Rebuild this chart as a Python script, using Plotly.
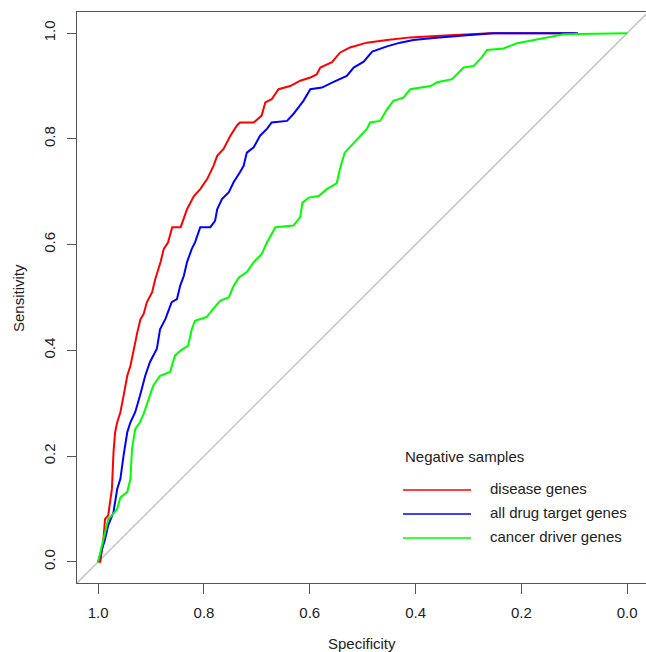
import plotly.graph_objects as go

# ---- data (specificity, sensitivity) ----
red_spec = [1.0, 0.996, 0.990, 0.987, 0.981, 0.974, 0.971, 0.968, 0.964, 0.958, 0.952, 0.945, 0.939, 0.933,
            0.926, 0.920, 0.914, 0.908, 0.898, 0.892, 0.882, 0.876, 0.868, 0.860, 0.844, 0.832, 0.819, 0.807,
            0.794, 0.782, 0.775, 0.763, 0.750, 0.738, 0.732, 0.706, 0.691, 0.684, 0.672, 0.659, 0.637, 0.618,
            0.599, 0.587, 0.580, 0.558, 0.543, 0.524, 0.492, 0.454, 0.410, 0.353, 0.303, 0.259, 0.098]
red_sens = [0.0, 0.0, 0.043, 0.081, 0.088, 0.138, 0.207, 0.245, 0.264, 0.283, 0.314, 0.352, 0.371, 0.403,
            0.434, 0.459, 0.469, 0.491, 0.510, 0.535, 0.567, 0.592, 0.604, 0.633, 0.633, 0.667, 0.692, 0.705,
            0.724, 0.749, 0.768, 0.781, 0.806, 0.825, 0.831, 0.831, 0.844, 0.869, 0.875, 0.894, 0.900, 0.910,
            0.916, 0.922, 0.935, 0.945, 0.963, 0.973, 0.982, 0.987, 0.992, 0.995, 0.998, 1.0, 1.0]

blue_spec = [1.0, 0.987, 0.981, 0.971, 0.964, 0.958, 0.952, 0.945, 0.939, 0.930, 0.921, 0.911, 0.902, 0.889,
             0.883, 0.873, 0.861, 0.851, 0.845, 0.838, 0.832, 0.823, 0.817, 0.807, 0.788, 0.779, 0.775, 0.766,
             0.753, 0.744, 0.732, 0.725, 0.719, 0.706, 0.694, 0.681, 0.672, 0.643, 0.631, 0.624, 0.612, 0.599,
             0.577, 0.555, 0.530, 0.517, 0.498, 0.482, 0.454, 0.429, 0.404, 0.366, 0.335, 0.303, 0.253, 0.093]
blue_sens = [0.0, 0.043, 0.069, 0.094, 0.138, 0.157, 0.201, 0.245, 0.264, 0.283, 0.314, 0.352, 0.378, 0.403,
             0.440, 0.459, 0.491, 0.497, 0.522, 0.541, 0.567, 0.592, 0.604, 0.633, 0.633, 0.645, 0.667, 0.686,
             0.699, 0.718, 0.737, 0.749, 0.774, 0.784, 0.806, 0.819, 0.831, 0.834, 0.847, 0.856, 0.872, 0.894,
             0.897, 0.908, 0.919, 0.935, 0.946, 0.965, 0.975, 0.982, 0.987, 0.991, 0.994, 0.996, 1.0, 1.0]

green_spec = [1.0, 0.987, 0.981, 0.974, 0.964, 0.958, 0.945, 0.939, 0.936, 0.930, 0.921, 0.914, 0.902, 0.896,
              0.883, 0.864, 0.855, 0.845, 0.830, 0.823, 0.817, 0.795, 0.783, 0.769, 0.753, 0.744, 0.734, 0.719,
              0.706, 0.691, 0.681, 0.665, 0.631, 0.618, 0.614, 0.602, 0.583, 0.568, 0.549, 0.543, 0.534, 0.519,
              0.505, 0.492, 0.486, 0.467, 0.454, 0.442, 0.423, 0.410, 0.372, 0.359, 0.331, 0.309, 0.290, 0.275,
              0.265, 0.234, 0.208, 0.177, 0.139, 0.120, 0.0]
green_sens = [0.0, 0.056, 0.081, 0.088, 0.100, 0.122, 0.132, 0.157, 0.214, 0.251, 0.264, 0.280, 0.314, 0.333,
              0.352, 0.359, 0.390, 0.399, 0.409, 0.440, 0.456, 0.463, 0.478, 0.494, 0.500, 0.522, 0.538, 0.548,
              0.567, 0.582, 0.604, 0.633, 0.636, 0.652, 0.679, 0.689, 0.692, 0.705, 0.716, 0.743, 0.774, 0.790,
              0.807, 0.819, 0.831, 0.834, 0.856, 0.872, 0.878, 0.894, 0.900, 0.907, 0.913, 0.935, 0.938, 0.954,
              0.968, 0.971, 0.981, 0.987, 0.995, 0.998, 1.0]

series_names = ["disease genes", "all drug target genes", "cancer driver genes"]
series_colors = ["#FF0000", "#0000FF", "#00FF00"]
legend_title = "Negative samples"
tick_vals = [0.0, 0.2, 0.4, 0.6, 0.8, 1.0]
tick_text = ["0.0", "0.2", "0.4", "0.6", "0.8", "1.0"]

X_RANGE = [1.04, -0.0356]
Y_RANGE = [-0.04, 1.04]
FONT = "Liberation Sans, Arial, Helvetica, sans-serif"
FS = 15

fig = go.Figure()

# chance diagonal (sensitivity = 1 - specificity) across the plot region
diag_x = [X_RANGE[0], X_RANGE[1]]
diag_y = [1 - v for v in diag_x]
fig.add_trace(go.Scatter(x=diag_x, y=diag_y, mode="lines",
                         line=dict(color="#BEBEBE", width=1.3), showlegend=False, hoverinfo="skip"))

for xs, ys, name, col in zip([red_spec, blue_spec, green_spec],
                             [red_sens, blue_sens, green_sens],
                             series_names, series_colors):
    fig.add_trace(go.Scatter(x=xs, y=ys, mode="lines", name=name,
                             line=dict(color=col, width=2), showlegend=False))

# manual legend (R style, no box)
L, R_, T, B = 77, 0, 12, 69
W, H = 646, 652
pw, ph = W - L - R_, H - T - B

def px_x(p):
    return (p - L) / pw

def px_y(p):
    return (H - B - p) / ph

shapes = []
annotations = []
annotations.append(dict(x=px_x(403), y=px_y(456), xref="paper", yref="paper", text=legend_title,
                        showarrow=False, xanchor="left", yanchor="middle",
                        font=dict(family=FONT, size=FS, color="#222222")))
for i, (name, col) in enumerate(zip(series_names, series_colors)):
    yy = 490 + i * 24
    shapes.append(dict(type="line", xref="paper", yref="paper", x0=px_x(403), x1=px_x(471),
                       y0=px_y(yy), y1=px_y(yy), line=dict(color=col, width=1.5)))
    annotations.append(dict(x=px_x(488), y=px_y(yy - 1.5), xref="paper", yref="paper", text=name,
                            showarrow=False, xanchor="left", yanchor="middle",
                            font=dict(family=FONT, size=FS, color="#222222")))

# axis titles
annotations.append(dict(x=px_x(362), y=px_y(643), xref="paper", yref="paper", text="Specificity",
                        showarrow=False, xanchor="center", yanchor="middle",
                        font=dict(family=FONT, size=FS, color="#222222")))
annotations.append(dict(x=px_x(18), y=px_y(298), xref="paper", yref="paper", text="Sensitivity",
                        showarrow=False, xanchor="center", yanchor="middle", textangle=-90,
                        font=dict(family=FONT, size=FS, color="#222222")))

fig.update_layout(
    width=W, height=H,
    margin=dict(l=L, r=R_, t=T, b=B, pad=0),
    paper_bgcolor="white", plot_bgcolor="white",
    showlegend=False,
    shapes=shapes, annotations=annotations,
    font=dict(family=FONT, size=FS, color="#222222"),
)
fig.update_xaxes(range=X_RANGE, showgrid=False, zeroline=False, showline=True, mirror=True,
                 linecolor="#555555", linewidth=1.2, ticks="outside", ticklen=10, tickwidth=1.2,
                 tickcolor="#555555", tickvals=tick_vals, ticktext=tick_text,
                 tickfont=dict(family=FONT, size=FS, color="#222222"), ticklabelstandoff=6)
fig.update_yaxes(range=Y_RANGE, showgrid=False, zeroline=False, showline=True, mirror=True,
                 linecolor="#555555", linewidth=1.2, ticks="outside", ticklen=9, tickwidth=1.2,
                 tickcolor="#555555", tickvals=tick_vals, ticktext=tick_text, tickangle=-90,
                 tickfont=dict(family=FONT, size=FS, color="#222222"), ticklabelstandoff=6)

fig.write_html("out.html", config={"displayModeBar": False},
               post_script="document.body.style.margin='0';document.body.style.overflow='hidden';")
